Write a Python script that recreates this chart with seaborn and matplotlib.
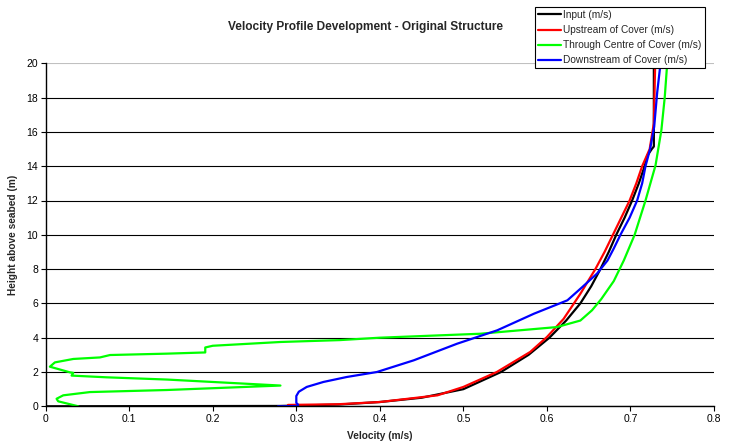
import numpy as np
import pandas as pd
import matplotlib
matplotlib.use("Agg")
import matplotlib.pyplot as plt
import seaborn as sns

# Velocity profiles (velocity in m/s, height above seabed in m)
input_height = [0.0, 0.02, 0.1, 0.25, 0.5, 1.0, 2.0, 3.0, 4.0, 5.0, 6.0, 7.0, 8.0, 9.0, 10.0, 11.0, 12.0, 13.0, 14.0, 14.6, 15.0, 15.15, 20.0]
input_vel = [0.0, 0.28, 0.35, 0.40, 0.45, 0.50, 0.545, 0.578, 0.603, 0.623, 0.640, 0.653, 0.664, 0.674, 0.683, 0.693, 0.702, 0.710, 0.717, 0.720, 0.7255, 0.728, 0.728]

upstream_height = [0.08, 0.12, 0.25, 0.64, 1.13, 2.0, 3.17, 4.04, 5.1, 6.56, 8.0, 9.0, 10.0, 11.0, 12.0, 13.0, 14.0, 15.0, 16.5, 20.0]
upstream_vel = [0.29, 0.35, 0.40, 0.469, 0.50, 0.54, 0.58, 0.60, 0.62, 0.64, 0.658, 0.669, 0.679, 0.689, 0.699, 0.707, 0.714, 0.723, 0.728, 0.7296]

centre_height = [0.0, 0.29, 0.44, 0.64, 0.83, 0.95, 1.21, 1.56, 1.69, 1.79, 1.95, 1.98, 2.31, 2.56, 2.76, 2.85,
                 2.99, 3.07, 3.14, 3.43, 3.53, 3.75, 3.86, 4.0, 4.23, 4.62, 5.0, 5.6, 6.25, 7.3, 8.5, 10.0, 12.0, 14.05, 16.1, 18.0, 20.0]
centre_vel = [0.039, 0.015, 0.013, 0.021, 0.053, 0.145, 0.281, 0.145, 0.073, 0.031, 0.033, 0.029, 0.005, 0.011, 0.033, 0.065,
              0.077, 0.145, 0.191, 0.191, 0.200, 0.281, 0.352, 0.400, 0.520, 0.612, 0.640, 0.654, 0.665, 0.680, 0.692, 0.705, 0.718, 0.730, 0.737, 0.741, 0.744]

downstream_height = [0.0, 0.02, 0.1, 0.2, 0.6, 0.85, 1.13, 1.42, 1.71, 2.0, 2.68, 3.65, 4.43, 5.4, 6.18, 6.96, 7.74,
                     8.5, 9.2, 10.0, 11.0, 12.0, 13.0, 14.0, 15.0, 16.3, 18.3, 20.0]
downstream_vel = [0.278, 0.302, 0.302, 0.300, 0.300, 0.303, 0.3125, 0.3325, 0.3605, 0.3965, 0.4405, 0.4925, 0.5405, 0.5845,
                  0.6245, 0.6425, 0.6600, 0.6725, 0.680, 0.688, 0.699, 0.708, 0.714, 0.718, 0.7235, 0.7284, 0.732, 0.736]

series_names = ["Input (m/s)", "Upstream of Cover (m/s)", "Through Centre of Cover (m/s)", "Downstream of Cover (m/s)"]
series_colors = ["#000000", "#ff0000", "#00ff00", "#0000ff"]

x_ticks = [0, 0.1, 0.2, 0.3, 0.4, 0.5, 0.6, 0.7, 0.8]
x_tick_labels = ["0", "0.1", "0.2", "0.3", "0.4", "0.5", "0.6", "0.7", "0.8"]
y_ticks = [0, 2, 4, 6, 8, 10, 12, 14, 16, 18, 20]

frames = []
for name, vel, hgt in zip(series_names,
                          [input_vel, upstream_vel, centre_vel, downstream_vel],
                          [input_height, upstream_height, centre_height, downstream_height]):
    frames.append(pd.DataFrame({"Velocity": vel, "Height": hgt, "Series": name}))
df = pd.concat(frames, ignore_index=True)

sns.set_style("white")
plt.rcParams["font.family"] = ["Liberation Sans", "DejaVu Sans"]

fig = plt.figure(figsize=(7.33, 4.45), dpi=100)
ax = fig.add_axes([45.7 / 733, 1 - 406.3 / 445, (714 - 45.7) / 733, (406.3 - 63.3) / 445])

sns.lineplot(data=df, x="Velocity", y="Height", hue="Series", hue_order=series_names,
             palette=series_colors, sort=False, estimator=None, units="Series",
             linewidth=1.6, ax=ax, legend=False)

ax.set_xlim(0, 0.8)
ax.set_ylim(0, 20)
ax.set_xticks(x_ticks)
ax.set_xticklabels(x_tick_labels)
ax.set_yticks(y_ticks)
ax.tick_params(axis="both", labelsize=7.5, colors="#000000", direction="out", length=3.5, width=0.8,
               bottom=True, left=True, pad=2)

ax.yaxis.grid(True, color="#000000", linewidth=0.8)
ax.xaxis.grid(False)
for val, gl in zip(y_ticks, ax.get_ygridlines()):
    if val == 20:
        gl.set_color("#c0c0c0")
ax.set_axisbelow(True)

for side in ["top", "right"]:
    ax.spines[side].set_visible(False)
for side in ["left", "bottom"]:
    ax.spines[side].set_color("#000000")
    ax.spines[side].set_linewidth(1.0)

ax.set_xlabel("Velocity (m/s)", fontsize=7.3, fontweight="bold", labelpad=5)
ax.set_ylabel("Height above seabed (m)", fontsize=7.3, fontweight="bold", labelpad=6)

fig.text(366 / 733, 1 - 27 / 445, "Velocity Profile Development - Original Structure",
         ha="center", va="center", fontsize=8.6, fontweight="bold")

handles = [plt.Line2D([], [], color=c, linewidth=1.6) for c in series_colors]
leg = fig.legend(handles, series_names, loc="upper left",
                 bbox_to_anchor=(535 / 733, 1 - 7 / 445), fontsize=7.3, frameon=True,
                 fancybox=False, framealpha=1, edgecolor="#000000", handlelength=2.3,
                 handletextpad=0.2, labelspacing=0.5, borderpad=0.3, borderaxespad=0)
leg.get_frame().set_linewidth(0.8)

fig.savefig("out.png", dpi=100)
